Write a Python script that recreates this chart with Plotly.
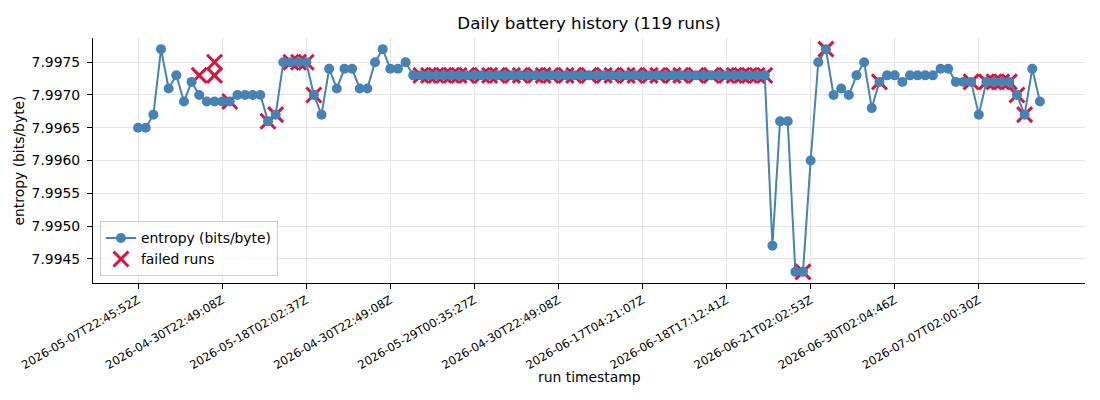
import plotly.graph_objects as go

# entropy per run (bits/byte), run order 0..118
entropy = [
    7.9965, 7.9965, 7.9967, 7.9977, 7.9971, 7.9973, 7.9969, 7.9972, 7.9970, 7.9969,
    7.9969, 7.9969, 7.9969, 7.9970, 7.9970, 7.9970, 7.9970, 7.9966, 7.9967, 7.9975,
    7.9975, 7.9975, 7.9975, 7.9970, 7.9967, 7.9974, 7.9971, 7.9974, 7.9974, 7.9971,
    7.9971, 7.9975, 7.9977, 7.9974, 7.9974, 7.9975, 7.9973, 7.9973, 7.9973, 7.9973,
    7.9973, 7.9973, 7.9973, 7.9973, 7.9973, 7.9973, 7.9973, 7.9973, 7.9973, 7.9973,
    7.9973, 7.9973, 7.9973, 7.9973, 7.9973, 7.9973, 7.9973, 7.9973, 7.9973, 7.9973,
    7.9973, 7.9973, 7.9973, 7.9973, 7.9973, 7.9973, 7.9973, 7.9973, 7.9973, 7.9973,
    7.9973, 7.9973, 7.9973, 7.9973, 7.9973, 7.9973, 7.9973, 7.9973, 7.9973, 7.9973,
    7.9973, 7.9973, 7.9973, 7.9947, 7.9966, 7.9966, 7.9943, 7.9943, 7.9960, 7.9975,
    7.9977, 7.9970, 7.9971, 7.9970, 7.9973, 7.9975, 7.9968, 7.9972, 7.9973, 7.9973,
    7.9972, 7.9973, 7.9973, 7.9973, 7.9973, 7.9974, 7.9974, 7.9972, 7.9972, 7.9972,
    7.9967, 7.9972, 7.9972, 7.9972, 7.9972, 7.9970, 7.9967, 7.9974, 7.9969,
]
runs = list(range(len(entropy)))

# failed runs: position on the run axis and entropy
failed_x = [8, 10, 10, 12, 17, 18, 20, 21, 22, 23,
            37, 38, 39, 40, 41, 42, 43, 45, 46, 47, 49, 50, 52, 53, 54, 56, 57,
            59, 61, 62, 64, 65, 67, 68, 70, 71, 73, 75, 77, 78, 79, 80, 81, 82,
            87, 90, 97, 109, 111, 112, 113, 114, 115, 116]
failed_y = [7.9973, 7.9975, 7.9973, 7.9969, 7.9966, 7.9967, 7.9975, 7.9975, 7.9975, 7.9970,
            7.9973, 7.9973, 7.9973, 7.9973, 7.9973, 7.9973, 7.9973, 7.9973, 7.9973,
            7.9973, 7.9973, 7.9973, 7.9973, 7.9973, 7.9973, 7.9973, 7.9973, 7.9973,
            7.9973, 7.9973, 7.9973, 7.9973, 7.9973, 7.9973, 7.9973, 7.9973, 7.9973,
            7.9973, 7.9973, 7.9973, 7.9973, 7.9973, 7.9973, 7.9973,
            7.9943, 7.9977, 7.9972, 7.9972, 7.9972, 7.9972, 7.9972, 7.9972, 7.9970, 7.9967]

tick_pos = [0, 11, 22, 33, 44, 55, 66, 77, 88, 99, 110]
tick_labels = [
    "2026-05-07T22:45:52Z", "2026-04-30T22:49:08Z", "2026-05-18T02:02:37Z",
    "2026-04-30T22:49:08Z", "2026-05-29T00:35:27Z", "2026-04-30T22:49:08Z",
    "2026-06-17T04:21:07Z", "2026-06-18T17:12:41Z", "2026-06-21T02:02:53Z",
    "2026-06-30T02:04:46Z", "2026-07-07T02:00:30Z",
]
y_ticks = [7.9945, 7.9950, 7.9955, 7.9960, 7.9965, 7.9970, 7.9975]

FONT = "DejaVu Sans"

fig = go.Figure()

# failed first so the blue dots sit on top, like the original
fig.add_trace(go.Scatter(
    x=failed_x, y=failed_y, mode="markers", name="failed runs",
    marker=dict(symbol="x-thin", size=15, color="#dc143c",
                line=dict(color="#dc143c", width=3)),
    legendrank=2))

fig.add_trace(go.Scatter(
    x=runs, y=entropy, mode="lines+markers", name="entropy (bits/byte)",
    line=dict(color="#4682b4", width=2),
    marker=dict(size=10, color="#4682b4"),
    legendrank=1))

axis_common = dict(
    showline=True, linecolor="black", linewidth=1.1,
    ticks="outside", ticklen=5, tickwidth=1.1, tickcolor="black",
    showgrid=True, gridcolor="#e6e6e6", gridwidth=0.9,
    zeroline=False, mirror=False, automargin=False,
)

fig.update_layout(
    width=1100, height=400,
    margin=dict(l=93, r=15, t=38, b=117),
    paper_bgcolor="white", plot_bgcolor="white",
    font=dict(family=FONT, size=13.9, color="black"),
    title=dict(text="Daily battery history (119 runs)", x=0.5, xref="paper",
               y=1 - 23 / 400, yref="container", yanchor="middle",
               font=dict(family=FONT, size=16.7, color="black")),
    xaxis=dict(axis_common, range=[-5.9, 123.9], tickvals=tick_pos, ticktext=tick_labels,
               tickangle=-30, tickfont=dict(size=11.6)),
    yaxis=dict(axis_common, range=[7.99413, 7.99787], tickvals=y_ticks, tickformat=".4f",
               tickfont=dict(size=13.9), ticklabelstandoff=4,
               title=dict(text="entropy (bits/byte)", standoff=3, font=dict(size=13.9))),
    legend=dict(x=0.007, y=0.027, xanchor="left", yanchor="bottom",
                bgcolor="rgba(255,255,255,0.8)", bordercolor="#cccccc", borderwidth=1,
                font=dict(size=13.9), itemwidth=30, tracegroupgap=0),
    showlegend=True,
)

# x-axis title placed as in the original, just under the slanted labels
fig.add_annotation(text="run timestamp", xref="paper", yref="paper", x=0.5, y=-94 / 245,
                   yanchor="middle", showarrow=False, font=dict(size=13.9))

fig.write_html("out.html", config={"displayModeBar": False},
               post_script="document.body.style.margin='0';")
